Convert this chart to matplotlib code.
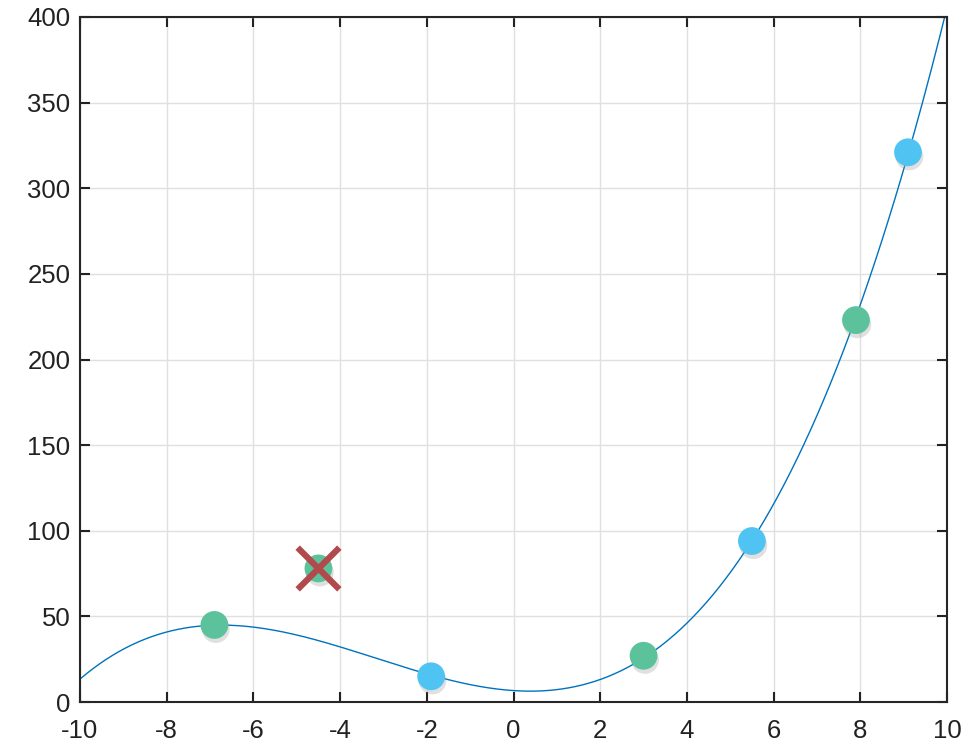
import numpy as np
import matplotlib.pyplot as plt
import matplotlib.patheffects as pe

plt.rcParams['font.family'] = ['Liberation Sans', 'DejaVu Sans']
plt.rcParams['axes.unicode_minus'] = False

# sample points
green_x = [-6.9, 3.0, 7.9]
green_y = [45, 27, 223]
blue_x = [-1.9, 5.5, 9.1]
blue_y = [15, 94, 321]
outlier_x = [-4.5]
outlier_y = [78]

# cubic fit through the kept points
fit_x = np.array(green_x + blue_x)
fit_y = np.array(green_y + blue_y)
coef = np.polyfit(fit_x, fit_y, 3)
xs = np.linspace(-10, 10, 400)
ys = np.polyval(coef, xs)

fig = plt.figure(figsize=(9.69, 7.45), dpi=100)
ax = fig.add_axes([80 / 969, 1 - 702 / 745, 867 / 969, 685 / 745])

ax.plot(xs, ys, color='#0072BD', lw=1.0, zorder=2)

shadow = [pe.SimplePatchShadow(offset=(1.0, -3.0), shadow_rgbFace='#999999', alpha=0.3), pe.Normal()]
ax.scatter(green_x + outlier_x, green_y + outlier_y, s=400, color='#5CC29C',
           edgecolors='none', zorder=3, path_effects=shadow)
ax.scatter(blue_x, blue_y, s=400, color='#4FC4F2',
           edgecolors='none', zorder=3, path_effects=shadow)
ax.scatter(outlier_x, outlier_y, s=900, marker='x', color='#B04A4C',
           linewidths=4.5, zorder=4)

ax.set_xlim(-10, 10)
ax.set_ylim(0, 400)
ax.set_xticks(np.arange(-10, 11, 2))
ax.set_yticks(np.arange(0, 401, 50))
ax.grid(True, color='#e0e0e0', lw=1.0)
ax.set_axisbelow(True)
ax.tick_params(direction='in', length=7, width=1.5, top=True, right=True,
               labelsize=18.5, colors='#222222', pad=7)
ax.tick_params(axis='x', pad=12)
for s in ax.spines.values():
    s.set_linewidth(1.5)
    s.set_color('#262626')

fig.savefig('out.png', dpi=100)
